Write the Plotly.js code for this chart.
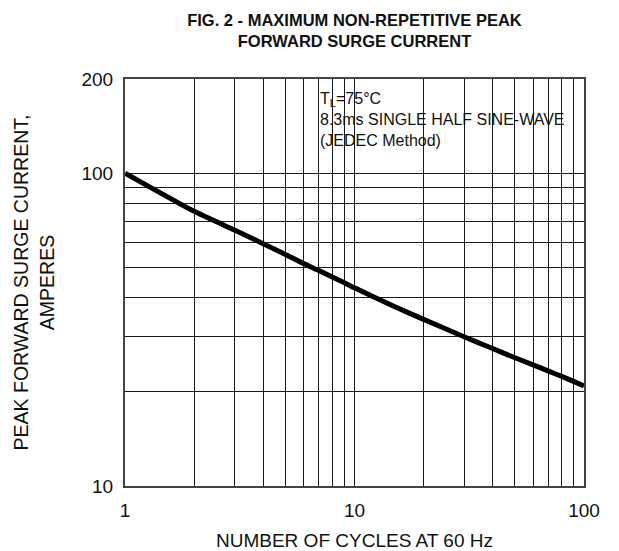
<!DOCTYPE html>
<html>
<head>
<meta charset="utf-8">
<script src="https://cdn.plot.ly/plotly-3.0.1.min.js"></script>
<style>html,body{margin:0;padding:0;background:#fff;}</style>
</head>
<body>
<div id="chart" style="width:619px;height:551px;"></div>
<script>
// Data
const cycles = [1, 2, 3, 4, 5, 6, 7, 8, 9, 10, 15, 20, 30, 40, 50, 60, 70, 80, 90, 100];
const surgeCurrent = [100, 75.5, 65.8, 59.5, 55, 51.4, 48.8, 46.6, 44.7, 43.0, 37.4, 34.1, 30, 27.5, 25.7, 24.4, 23.3, 22.4, 21.6, 20.9];

// Axis tick labels and grid positions
const xTickVals = [1, 10, 100];
const xTickText = ['1', '10', '100'];
const xGridVals = [2,3,4,5,6,7,8,9,20,30,40,50,60,70,80,90];
const yTickVals = [10, 100, 200];
const yTickText = ['10', '100', '200'];
const yGridVals = [20,30,40,50,60,70,80,90];

const titleText = 'FIG. 2 - MAXIMUM NON-REPETITIVE PEAK<br>FORWARD SURGE CURRENT';
const xTitle = 'NUMBER OF CYCLES AT 60 Hz';
const yTitle = 'PEAK FORWARD SURGE CURRENT,<br>AMPERES';
const noteText = 'T<sub>L</sub>=75°C<br>8.3ms SINGLE HALF SINE-WAVE<br>(JEDEC Method)';

const font = 'Liberation Sans, Arial, sans-serif';

const trace = {
  x: cycles, y: surgeCurrent, type: 'scatter', mode: 'lines',
  line: {color: '#000', width: 5, shape: 'spline', smoothing: 0.5},
  hoverinfo: 'skip'
};

const axisCommon = {
  type: 'log', showgrid: true, gridcolor: '#1a1a1a', gridwidth: 1,
  showline: true, linecolor: '#444', linewidth: 2, mirror: true,
  ticks: '', zeroline: false,
  tickfont: {family: font, size: 19, color: '#111'}
};

const layout = {
  width: 619, height: 551,
  margin: {l: 125, r: 35, t: 79, b: 65},
  paper_bgcolor: '#fff', plot_bgcolor: '#fff',
  showlegend: false,
  title: {
    text: titleText, x: 0.5, xref: 'paper', xanchor: 'center',
    y: 0.953, yanchor: 'top',
    font: {family: font, size: 16.5, color: '#111', weight: 'bold'}
  },
  xaxis: Object.assign({}, axisCommon, {
    range: [0, 2], tickmode: 'array', tickvals: xTickVals, ticktext: xTickText,
    ticklabelstandoff: 6,
    minor: {tickmode: 'array', tickvals: xGridVals, showgrid: true, gridcolor: '#1a1a1a', gridwidth: 1, ticks: ''},
    title: {text: xTitle, standoff: 14, font: {family: font, size: 19, color: '#111'}}
  }),
  yaxis: Object.assign({}, axisCommon, {
    range: [1, Math.log10(200)], tickmode: 'array', tickvals: yTickVals, ticktext: yTickText,
    ticklabelstandoff: 6,
    minor: {tickmode: 'array', tickvals: yGridVals, showgrid: true, gridcolor: '#1a1a1a', gridwidth: 1, ticks: ''},
    title: {text: yTitle, standoff: 22, font: {family: font, size: 19.5, color: '#111'}}
  }),
  shapes: [{
    type: 'rect', xref: 'paper', yref: 'paper', layer: 'below',
    x0: 0.4074, x1: 0.992, y0: 0.8206, y1: 0.983,
    fillcolor: '#fff', line: {width: 0}
  }],
  annotations: [{
    xref: 'paper', yref: 'paper', x: 0.4205, y: 0.978,
    xanchor: 'left', yanchor: 'top', align: 'left', showarrow: false,
    text: noteText, font: {family: font, size: 16, color: '#111'}
  }]
};

Plotly.newPlot('chart', [trace], layout, {staticPlot: true, displayModeBar: false});
</script>
</body>
</html>
